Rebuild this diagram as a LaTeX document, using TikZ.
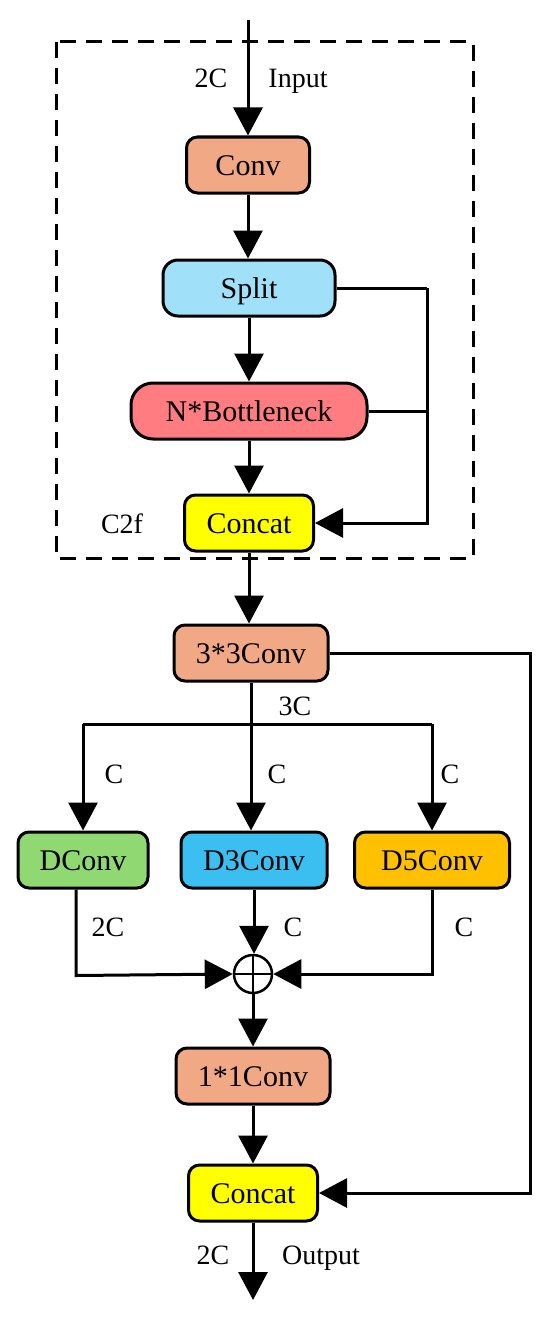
\documentclass[tikz,border=0pt]{standalone}
\usepackage{fontspec}
\setmainfont{Liberation Serif}
\usetikzlibrary{arrows.meta,calc}
\definecolor{convc}{RGB}{241,168,132}
\definecolor{splitc}{RGB}{160,224,248}
\definecolor{bottc}{RGB}{255,124,128}
\definecolor{concc}{RGB}{255,255,0}
\definecolor{dconvc}{RGB}{143,216,114}
\definecolor{dthreec}{RGB}{59,190,240}
\definecolor{dfivec}{RGB}{255,192,0}
\begin{document}
\begin{tikzpicture}[x=1pt,y=-1pt,
  blk/.style={draw=black, line width=3pt, rounded corners=11pt, minimum height=56pt,
    inner sep=0pt, font=\fontsize{30}{32}\selectfont, text height=20pt, text depth=0pt},
  lbl/.style={anchor=base, font=\fontsize{28}{30}\selectfont, inner sep=0pt},
  arr/.style={line width=3pt, -{Triangle[width=29pt,length=28pt]}},
  ln/.style={line width=3pt}]
\useasboundingbox (0,0) rectangle (550,1319);
% C2f dashed box
\draw[line width=3pt, dash pattern=on 16pt off 10pt] (56,42) rectangle (473,558);
% nodes
\node[blk, fill=convc, minimum width=123pt] (conv) at (248,165) {Conv};
\node[blk, fill=splitc, minimum width=172pt, rounded corners=15pt] (split) at (249,288) {Split};
\node[blk, fill=bottc, minimum width=236pt, rounded corners=22pt] (bott) at (249,411) {N*Bottleneck};
\node[blk, fill=concc, minimum width=129pt] (cat1) at (249,523) {Concat};
\node[blk, fill=convc, minimum width=154pt] (c33) at (251,653) {3*3Conv};
\node[blk, fill=dconvc, minimum width=130pt] (dconv) at (83,860) {DConv};
\node[blk, fill=dthreec, minimum width=146pt] (d3) at (254,860) {D3Conv};
\node[blk, fill=dfivec, minimum width=155pt] (d5) at (432,860) {D5Conv};
\node[draw=black, line width=2.5pt, circle, minimum size=38pt, inner sep=0pt] (add) at (253,974) {};
\node[blk, fill=convc, minimum width=154pt] (c11) at (253,1076) {1*1Conv};
\node[blk, fill=concc, minimum width=129pt] (cat2) at (253,1193) {Concat};
\coordinate (in) at (248,20);
\coordinate (out) at (253,1300);
\coordinate (jr1) at (427,288);
\coordinate (jr2) at (530,653);
\coordinate (spl) at (251,724);
% labels
\node[lbl] at (211,88) {2C};
\node[lbl] at (298,88) {Input};
\node[lbl] at (122,533) {C2f};
\node[lbl] at (295,715) {3C};
\node[lbl] at (114,783) {C};
\node[lbl] at (277,783) {C};
\node[lbl] at (450,783) {C};
\node[lbl] at (108,936) {2C};
\node[lbl] at (293,936) {C};
\node[lbl] at (464,936) {C};
\node[lbl] at (213,1264) {2C};
\node[lbl] at (321,1264) {Output};
% plus sign
\draw[line width=2.5pt] (add.north) -- (add.south) (add.west) -- (add.east);
% connectors
\draw[arr] (in) -- (conv.north);
\draw[arr] (conv.south) -- (conv.south |- split.north);
\draw[arr] (split.south) -- (bott.north);
\draw[arr] (bott.south) -- (cat1.north);
\draw[ln] (split.east) -- (jr1);
\draw[ln] (bott.east) -- (bott.east -| jr1);
\draw[arr] (jr1) -- (jr1 |- cat1.east) -- (cat1.east);
\draw[arr] (cat1.south) -- (cat1.south |- c33.north);
\draw[ln] (c33.south) -- (spl);
\draw[ln] (dconv.north |- spl) -- (d5.north |- spl);
\draw[arr] (dconv.north |- spl) -- (dconv.north);
\draw[arr] (spl) -- (spl |- d3.north);
\draw[arr] (d5.north |- spl) -- (d5.north);
\draw[arr] (dconv.south) ++(-7,0) -- ++(0,86) -- (add.west);
\draw[arr] (d3.south) -- (d3.south |- add.north);
\draw[arr] (d5.south) -- (d5.south |- add.east) -- (add.east);
\draw[arr] (add.south) -- (c11.north);
\draw[arr] (c11.south) -- (cat2.north);
\draw[arr] (c33.east) -- (jr2) -- (jr2 |- cat2.east) -- (cat2.east);
\draw[arr] (cat2.south) -- (out);
\end{tikzpicture}
\end{document}
